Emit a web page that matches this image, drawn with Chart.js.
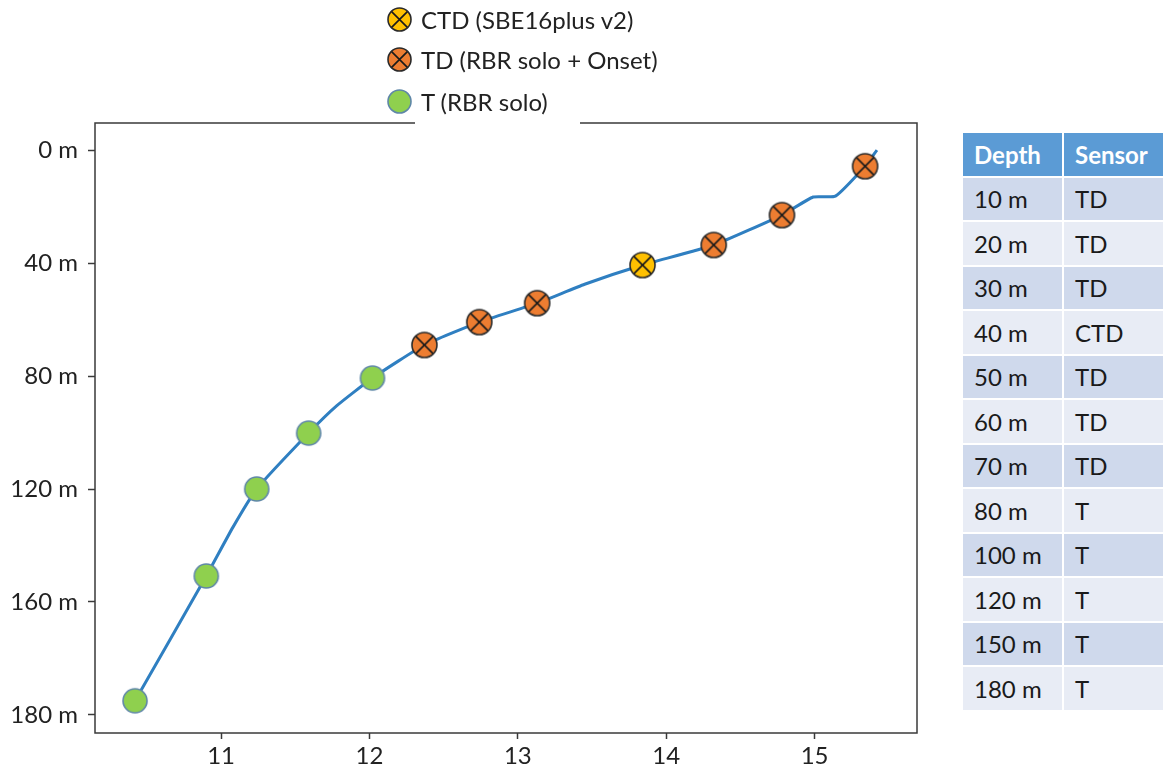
<!DOCTYPE html>
<html>
<head>
<meta charset="utf-8">
<script src="https://cdn.jsdelivr.net/npm/chart.js@4.4.1/dist/chart.umd.min.js"></script>
<style>
  html, body { margin: 0; padding: 0; background: #fff; }
  body { width: 1163px; height: 769px; position: relative; overflow: hidden; font-family: Lato, "Open Sans", sans-serif; color: #222; }
  #wrap { position: absolute; left: 0; top: 0; width: 940px; height: 769px; }
  #legend { position: absolute; left: 415px; top: 0; width: 165px; height: 126px; background: #fff; z-index: 2; }
  .item { position: absolute; left: -29px; height: 30px; display: flex; align-items: center; white-space: nowrap; font-size: 24px; }
  .item canvas { margin-right: 8px; }
  #table { position: absolute; left: 963px; top: 133px; width: 200px; border-collapse: collapse; font-size: 24px; z-index: 2; }
  #table td, #table th { height: 42.5px; padding: 0 0 0 11px; border: 2px solid #fff; text-align: left; }
  #table td { color: #1a1a1a; }
  #table th { background: #5b9bd5; color: #fff; font-weight: bold; border-top: none; }
  #table td:first-child, #table th:first-child { border-left: none; width: 88px; }
  #table td:last-child, #table th:last-child { border-right: none; }
  #table tr.odd td { background: #cfd9ec; }
  #table tr.even td { background: #e8ecf5; }
</style>
</head>
<body>
<div id="wrap"><canvas id="chart" width="940" height="769"></canvas></div>
<div id="legend"></div>
<table id="table"></table>
<script>
// temperature profile (x = temperature, y = depth in plot units)
const profileTemp  = [15.42, 15.34, 15.14, 14.99, 14.78, 14.32, 13.84, 13.45, 13.13, 12.74, 12.37, 12.02, 11.78, 11.59, 11.24, 11.08, 10.90, 10.42];
const profileDepth = [0, 5.7, 16.3, 16.6, 23, 33.6, 40.7, 47.5, 54.2, 60.9, 69, 80.7, 90.5, 100.2, 120, 133.5, 150.8, 195];

// sensors
const sensorDepthLabels = ['10 m', '20 m', '30 m', '40 m', '50 m', '60 m', '70 m', '80 m', '100 m', '120 m', '150 m', '180 m'];
const sensorTypes       = ['TD', 'TD', 'TD', 'CTD', 'TD', 'TD', 'TD', 'T', 'T', 'T', 'T', 'T'];
const sensorTemp        = [15.34, 14.78, 14.32, 13.84, 13.13, 12.74, 12.37, 12.02, 11.59, 11.24, 10.90, 10.42];
const sensorPlotDepth   = [5.7, 23, 33.6, 40.7, 54.2, 60.9, 69, 80.7, 100.2, 120, 150.8, 195];

const legendLabels = { CTD: 'CTD (SBE16plus v2)', TD: 'TD (RBR solo + Onset)', T: 'T (RBR solo)' };

// axes
const xTickValues = [11, 12, 13, 14, 15];
const yTickValues = [0, 40, 80, 120, 160, 200];
const yTickLabels = ['0 m', '40 m', '80 m', '120 m', '160 m', '180 m'];

const styles = {
  CTD: { fill: '#ffc000', stroke: '#2a2a2a', cross: true },
  TD:  { fill: '#ed7d31', stroke: '#2a2a2a', cross: true },
  T:   { fill: '#8fd04e', stroke: '#5f87a8', cross: false },
};

function marker(type, r) {
  const s = styles[type];
  const size = Math.ceil(r * 2 + 4);
  const c = document.createElement('canvas');
  c.width = size; c.height = size;
  const g = c.getContext('2d');
  const m = size / 2;
  g.beginPath();
  g.arc(m, m, r, 0, Math.PI * 2);
  g.fillStyle = s.fill;
  g.fill();
  if (s.cross) {
    const d = r * Math.SQRT1_2;
    g.beginPath();
    g.moveTo(m - d, m - d); g.lineTo(m + d, m + d);
    g.moveTo(m + d, m - d); g.lineTo(m - d, m + d);
    g.strokeStyle = '#1a1a1a';
    g.lineWidth = 1.6;
    g.stroke();
  }
  g.beginPath();
  g.arc(m, m, r, 0, Math.PI * 2);
  g.strokeStyle = s.stroke;
  g.lineWidth = 1.6;
  g.stroke();
  return c;
}

function pointsFor(type) {
  const out = [];
  sensorTypes.forEach((t, i) => { if (t === type) out.push({ x: sensorTemp[i], y: sensorPlotDepth[i] }); });
  return out;
}

// legend
const legend = document.getElementById('legend');
[['CTD', 19], ['TD', 59], ['T', 101]].forEach(([type, cy]) => {
  const div = document.createElement('div');
  div.className = 'item';
  div.style.top = (cy - 15) + 'px';
  div.appendChild(marker(type, 11.5));
  const span = document.createElement('span');
  span.textContent = legendLabels[type];
  div.appendChild(span);
  legend.appendChild(div);
});

// table
const table = document.getElementById('table');
let html = '<tr><th>Depth</th><th>Sensor</th></tr>';
sensorDepthLabels.forEach((d, i) => {
  html += `<tr class="${i % 2 === 0 ? 'odd' : 'even'}"><td>${d}</td><td>${sensorTypes[i]}</td></tr>`;
});
table.innerHTML = html;

const frame = {
  id: 'frame',
  afterDatasetsDraw(chart) {
    const a = chart.chartArea;
    const g = chart.ctx;
    g.save();
    g.strokeStyle = '#3a3a3a';
    g.lineWidth = 1.5;
    g.strokeRect(a.left, a.top, a.right - a.left, a.bottom - a.top);
    g.restore();
  }
};

const font = { family: 'Lato, "Open Sans", sans-serif', size: 24 };

new Chart(document.getElementById('chart'), {
  type: 'line',
  data: {
    datasets: [
      { label: 'profile', data: profileTemp.map((x, i) => ({ x, y: profileDepth[i] })),
        borderColor: '#2f7fc1', borderWidth: 3, pointRadius: 0, tension: 0.15, order: 3 },
      { label: 'CTD', data: pointsFor('CTD'), showLine: false, pointStyle: marker('CTD', 12.5), order: 1 },
      { label: 'TD', data: pointsFor('TD'), showLine: false, pointStyle: marker('TD', 12.5), order: 1 },
      { label: 'T', data: pointsFor('T'), showLine: false, pointStyle: marker('T', 12), order: 1 },
    ],
  },
  options: {
    responsive: false,
    animation: false,
    layout: { padding: { top: 123, right: 23, left: 0, bottom: 0 } },
    plugins: { legend: { display: false }, tooltip: { enabled: false } },
    scales: {
      x: {
        type: 'linear', min: 10.15, max: 15.69,
        afterBuildTicks: (s) => { s.ticks = xTickValues.map(v => ({ value: v })); },
        afterFit: (s) => { s.height = 36; },
        grid: { drawOnChartArea: false, tickLength: 6, tickColor: '#3a3a3a', tickWidth: 1.5 },
        border: { display: false },
        ticks: { font, color: '#222', padding: 3, maxRotation: 0 },
      },
      y: {
        type: 'linear', reverse: true, min: -9.6, max: 206.4,
        afterBuildTicks: (s) => { s.ticks = yTickValues.map(v => ({ value: v })); },
        afterFit: (s) => { s.width = 95; },
        grid: { drawOnChartArea: false, tickLength: 7, tickColor: '#3a3a3a', tickWidth: 1.5 },
        border: { display: false },
        ticks: { font, color: '#222', padding: 10, callback: (v) => yTickLabels[yTickValues.indexOf(v)] },
      },
    },
  },
  plugins: [frame],
});
</script>
</body>
</html>
